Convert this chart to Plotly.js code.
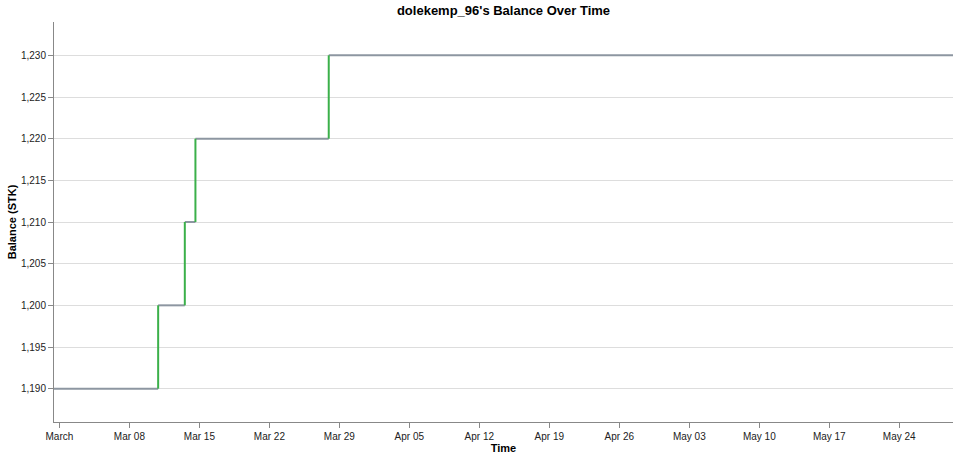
<!DOCTYPE html>
<html>
<head>
<meta charset="utf-8">
<script src="https://cdn.plot.ly/plotly-3.0.1.min.js"></script>
<style>
    html, body { margin: 0; padding: 0; background: #fff; }
    #chart { width: 960px; height: 459px; }
</style>
</head>
<body>
<div id="chart"></div>
<script>
const balance_times = [
    "2020-02-29 11:00", "2020-03-10 21:00", "2020-03-13 13:00",
    "2020-03-14 14:30", "2020-03-27 22:30", "2020-05-29 09:00"
];
const balance_values = [1190, 1200, 1210, 1220, 1230, 1230];

const tick_dates = [
    "2020-03-01", "2020-03-08", "2020-03-15", "2020-03-22", "2020-03-29",
    "2020-04-05", "2020-04-12", "2020-04-19", "2020-04-26", "2020-05-03",
    "2020-05-10", "2020-05-17", "2020-05-24"
];
const tick_labels = [
    "March", "Mar 08", "Mar 15", "Mar 22", "Mar 29", "Apr 05", "Apr 12",
    "Apr 19", "Apr 26", "May 03", "May 10", "May 17", "May 24"
];

class balance_chart {

    constructor(view) {
        this.set_chart_view(view);
    }

    set_chart_view(view) { this.chart_view = view; }
    get_chart_view() { return this.chart_view; }

    process_traces(times, values) {
        // flat parts of the step line
        const flat = { x: [], y: [], type: "scatter", mode: "lines",
            line: { color: "#8d96a1", width: 2 }, hoverinfo: "skip" };
        // rises between steps
        const rise = { x: [], y: [], type: "scatter", mode: "lines",
            line: { color: "#3bb04a", width: 2 }, hoverinfo: "skip" };

        for (let i = 0; i < times.length - 1; i++) {
            flat.x.push(times[i], times[i + 1], null);
            flat.y.push(values[i], values[i], null);
            if (values[i + 1] != values[i]) {
                rise.x.push(times[i + 1], times[i + 1], null);
                rise.y.push(values[i], values[i + 1], null);
            }
        }
        return [flat, rise];
    }

    update_chart() {
        const traces = this.process_traces(balance_times, balance_values);
        const tick_font = { family: "Liberation Sans, Arial, sans-serif", size: 10, color: "#222" };
        const title_font = { family: "Liberation Sans, Arial, sans-serif", size: 11, color: "#000", weight: "bold" };

        const layout = {
            width: 960, height: 459,
            margin: { l: 54, r: 7, t: 22, b: 37, pad: 0 },
            paper_bgcolor: "#fff", plot_bgcolor: "#fff",
            showlegend: false,
            title: {
                text: "dolekemp_96's Balance Over Time",
                font: { family: "Liberation Sans, Arial, sans-serif", size: 13, color: "#000", weight: "bold" },
                x: 0.5, xref: "paper", y: 1 - 10 / 459, yref: "container", yanchor: "middle"
            },
            xaxis: {
                type: "date",
                range: [balance_times[0], balance_times[balance_times.length - 1]],
                tickvals: tick_dates, ticktext: tick_labels,
                showgrid: false, zeroline: false,
                showline: true, linecolor: "#888", linewidth: 1,
                ticks: "outside", ticklen: 5, tickcolor: "#888",
                tickfont: tick_font,
                title: { text: "Time", font: title_font, standoff: 2 }
            },
            yaxis: {
                range: [1186, 1234],
                dtick: 5, tick0: 1190, tickformat: ",d",
                showgrid: true, gridcolor: "#ddd", zeroline: false,
                showline: true, linecolor: "#888", linewidth: 1,
                ticks: "outside", ticklen: 5, tickcolor: "#888",
                tickfont: tick_font,
                title: { text: "Balance (STK)", font: title_font, standoff: 2 }
            }
        };
        const configuration = { displayModeBar: false, staticPlot: true };
        Plotly.newPlot(this.get_chart_view(), traces, layout, configuration);
    }
}

const chart = new balance_chart(document.getElementById("chart"));
chart.update_chart();
</script>
</body>
</html>
